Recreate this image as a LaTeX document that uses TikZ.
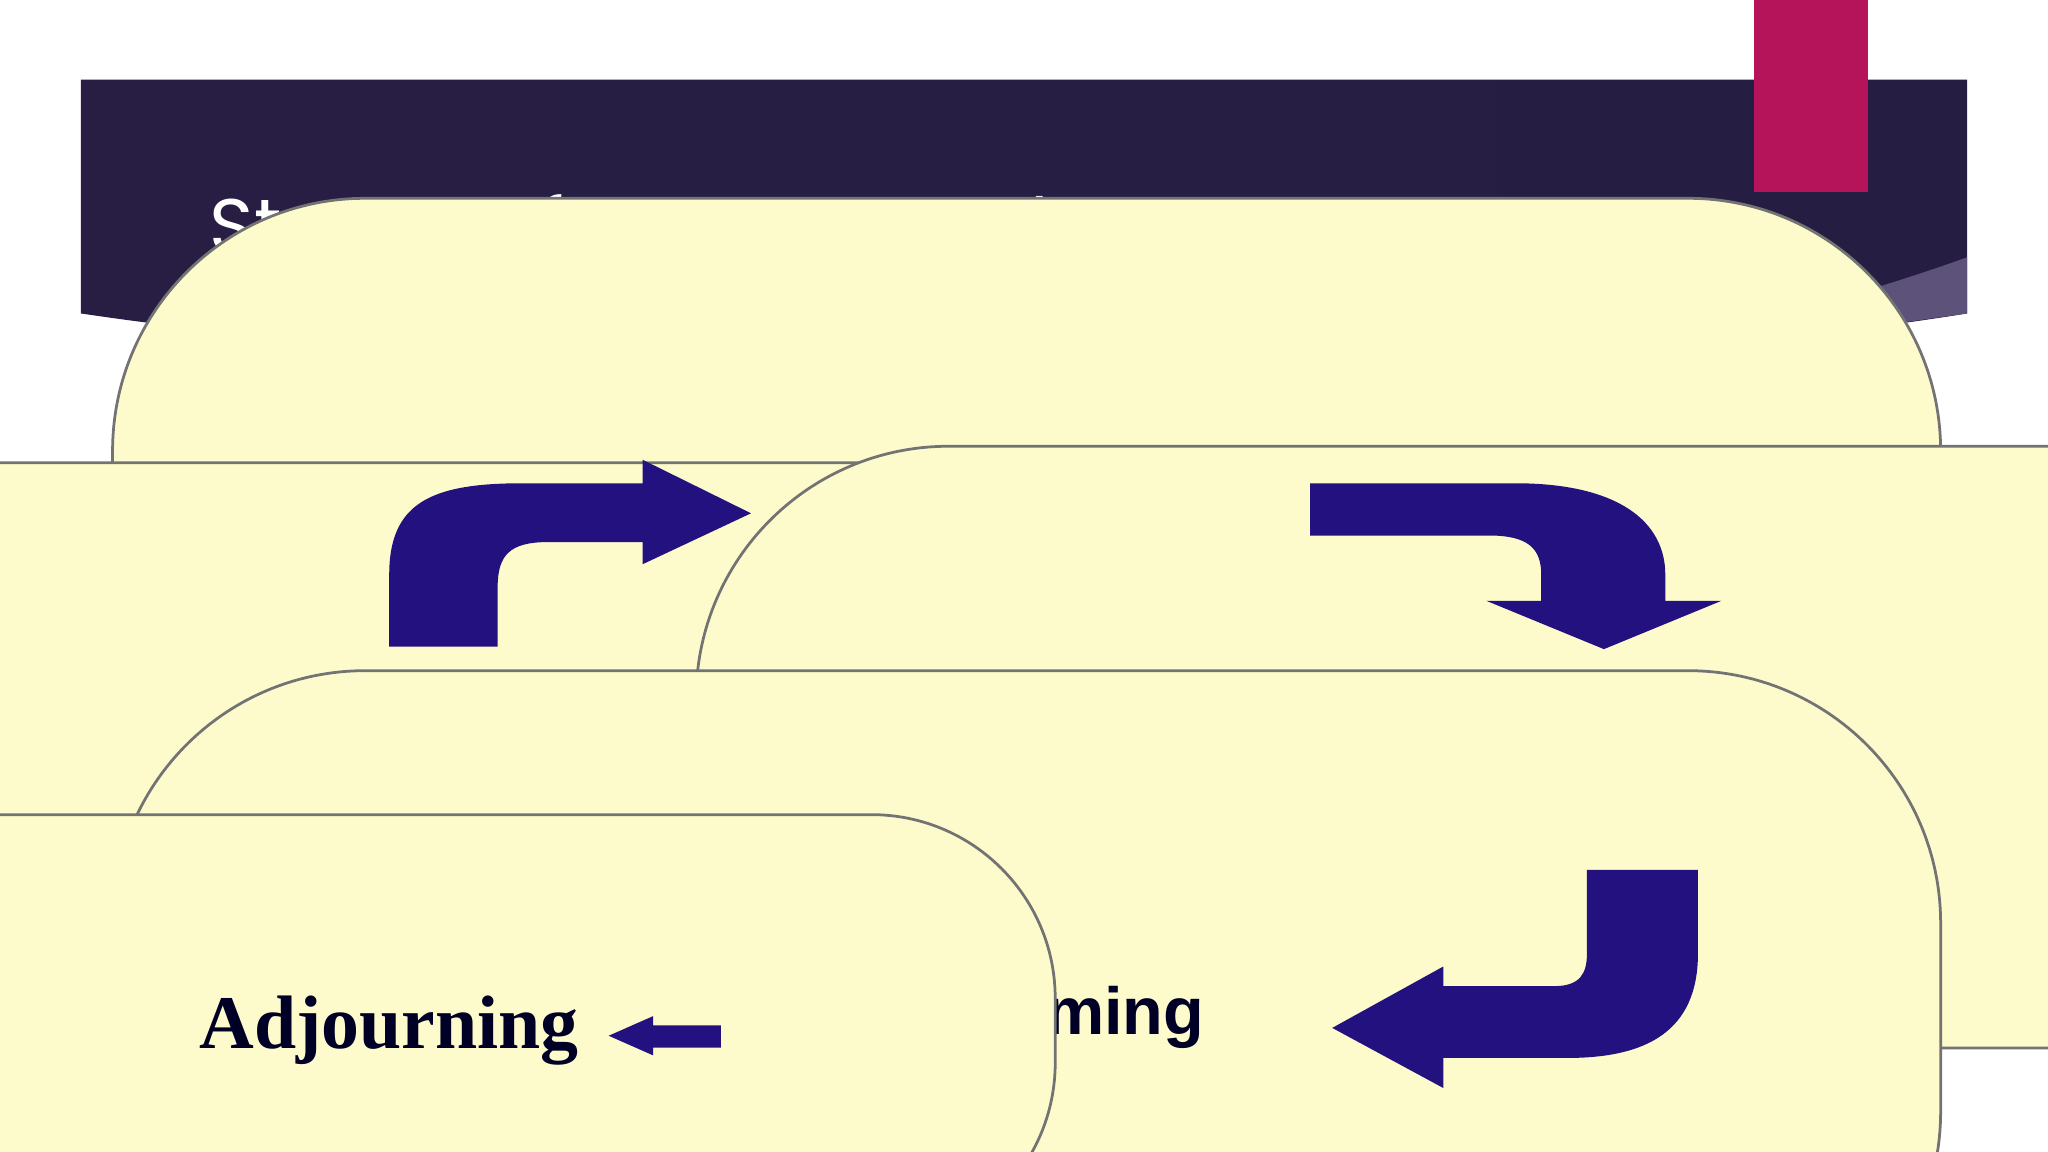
\documentclass[tikz,border=0pt]{standalone}
\usepackage{fontspec}
\setmainfont{Liberation Sans}
\newfontfamily\titlefont{Poppins}
\newfontfamily\serifb{Liberation Serif}
\definecolor{arrowc}{HTML}{22117E}
\definecolor{boxc}{HTML}{FDFBCC}
\definecolor{pinkc}{HTML}{B5145A}
\definecolor{bandL}{HTML}{281E44}
\definecolor{bandM}{HTML}{6C2D62}
\definecolor{bandR}{HTML}{261E42}
\definecolor{bandHi}{HTML}{5C527A}
\definecolor{frameC}{HTML}{AAC3E1}
\tikzset{
  stage/.style={draw=black!55, line width=0.6pt, fill=boxc, rounded corners=55, inner sep=0pt},
  flow/.style={fill=arrowc, draw=none},
  lbl/.style={font=\bfseries\fontsize{14.5}{16}\selectfont, text=black!85!blue}
}
\begin{document}
\begin{tikzpicture}[x=0.01cm,y=-0.01cm]
\useasboundingbox (0,0) rectangle (1568,882);
\fill[white] (0,0) rectangle (1568,882);
% banner
\path[left color=bandL, middle color=bandM, right color=bandR]
  (62,61) -- (1506,61) -- (1506,240) .. controls (1150,298) and (450,298) .. (62,240) -- cycle;
\fill[bandHi] (1506,197) -- (1506,240) .. controls (1350,262) and (1250,276) .. (1120,284) .. controls (1300,262) and (1420,228) .. (1506,197) -- cycle;
\fill[pinkc] (1343,0) rectangle (1430,147);
\node[anchor=base west, text=white, font=\titlefont\fontsize{16.5}{18}\selectfont, inner sep=0pt] (title) at (160,193) {Stages of Group Development};
% frame
\draw[frameC, line width=0.5pt] (149,328) rectangle (1437,857);
% nodes
\node[stage, minimum width=398, minimum height=140] (storm) at (786,398) {};
\node[lbl] at (storm.center) {Storming};
\node[stage, minimum width=398, minimum height=121] (form) at (352,567) {};
\node[lbl] at (form.center) {Forming};
\node[stage, minimum width=397, minimum height=131] (norm) at (1231,572) {};
\node[lbl] at ([yshift=4]norm.center) {Norming};
\node[stage, minimum width=398, minimum height=151] (perf) at (786,779) {};
\node[lbl] at (perf.center) {Performing};
\node[stage, rounded corners=40, minimum width=290, minimum height=94] (adj) at (298,789) {};
\node[font=\serifb\bfseries\fontsize{16.5}{18}\selectfont, text=black!85!blue] at (adj.center) {Adjourning};
% arrows
\fill[flow] (298,495) -- (298,440) .. controls (298,385) and (330,370) .. (400,370) -- (492,370) -- (492,352) -- (575,393) -- (492,432) -- (492,415) -- (420,415) .. controls (390,415) and (381,425) .. (381,450) -- (381,495) -- cycle;
\fill[flow] (1003,370) -- (1160,370) .. controls (1240,370) and (1275,400) .. (1275,440) -- (1275,460) -- (1318,460) -- (1228,497) -- (1138,460) -- (1180,460) -- (1180,440) .. controls (1180,420) and (1170,410) .. (1140,410) -- (1003,410) -- cycle;
\fill[flow] (1215,666) -- (1300,666) -- (1300,730) .. controls (1300,790) and (1260,810) .. (1200,810) -- (1105,810) -- (1105,833) -- (1020,787) -- (1105,740) -- (1105,755) -- (1190,755) .. controls (1210,755) and (1215,745) .. (1215,730) -- cycle;
\fill[flow] (552,785) -- (500,785) -- (500,778) -- (466,793) -- (500,808) -- (500,802) -- (552,802) -- cycle;
\end{tikzpicture}
\end{document}
